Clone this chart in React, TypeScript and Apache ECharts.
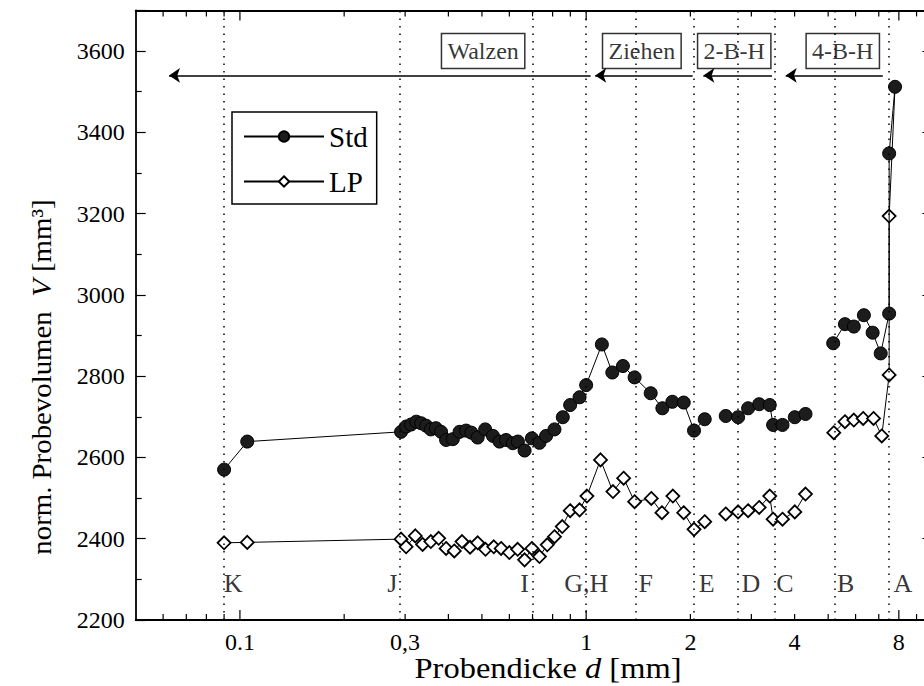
import React, { useEffect, useRef } from "react";
import * as echarts from "echarts";

const FONT = "'Liberation Serif', 'DejaVu Serif', serif";

// axis ranges
const xMin = 0.05;
const xMax = 10;
const yMin = 2200;
const yMax = 3700;

// Std series (filled circles); null marks a break in the line
const stdX = [
  0.09, 0.105,
  0.292, 0.302, 0.312, 0.323, 0.334, 0.345, 0.356, 0.368, 0.381, 0.394, 0.412, 0.431, 0.45, 0.466, 0.486, 0.511,
  0.538, 0.562, 0.587, 0.614, 0.635, 0.664, 0.697, 0.733, 0.766, 0.81, 0.856, 0.899, 0.957, 1.0,
  1.11, 1.19, 1.277, 1.38, 1.536, 1.66, 1.774, 1.913, 2.049, 2.2,
  null,
  2.53, 2.747, 2.936, 3.16, 3.39, 3.467, 3.69, 4.005, 4.3,
  null,
  5.17, 5.59, 5.93, 6.34, 6.72, 7.09, 7.5, 7.5, 7.8,
];
const stdY = [
  2570, 2639,
  2663, 2676, 2681, 2688, 2684, 2678, 2669, 2672, 2663, 2643, 2645, 2663, 2666, 2661, 2649, 2669,
  2653, 2639, 2643, 2635, 2639, 2617, 2647, 2636, 2653, 2669, 2699, 2729, 2748, 2778,
  2878, 2809, 2825, 2797, 2758, 2721, 2737, 2735, 2666, 2694,
  null,
  2702, 2699, 2721, 2731, 2729, 2680, 2680, 2699, 2707,
  null,
  2881, 2928, 2922, 2950, 2907, 2856, 2954, 3348, 3512,
];

// LP series (open diamonds)
const lpX = [
  0.09, 0.105,
  0.292, 0.302, 0.321, 0.337, 0.356, 0.375, 0.394, 0.416, 0.438, 0.462, 0.486, 0.512, 0.541, 0.568, 0.6, 0.634,
  0.664, 0.697, 0.733, 0.772, 0.81, 0.853, 0.899, 0.957, 1.005,
  1.1, 1.195, 1.283, 1.38, 1.542, 1.655, 1.78, 1.913, 2.049, 2.2,
  null,
  2.53, 2.747, 2.936, 3.16, 3.39, 3.467, 3.69, 4.005, 4.3,
  null,
  5.19, 5.59, 5.93, 6.31, 6.76, 7.14, 7.5, 7.5, 7.8,
];
const lpY = [
  2390, 2391,
  2399, 2380, 2407, 2386, 2393, 2401, 2376, 2370, 2393, 2379, 2390, 2374, 2380, 2376, 2366, 2374,
  2348, 2376, 2356, 2385, 2405, 2430, 2469, 2471, 2505,
  2594, 2516, 2549, 2491, 2499, 2464, 2505, 2464, 2423, 2442,
  null,
  2461, 2466, 2469, 2477, 2505, 2448, 2448, 2466, 2510,
  null,
  2661, 2688, 2692, 2696, 2696, 2653, 2803, 3194, 3512,
];
// last LP point has no visible marker (it sits under the top Std point)
const lpHiddenLast = true;

// sample groups: dotted divider lines and their letters
const dividerX = [0.09, 0.292, 0.7, 1.0, 1.39, 2.05, 2.74, 3.51, 5.23, 7.49];
const letterX = [0.0956, 0.2756, 0.664, 1.0, 1.485, 2.23, 2.99, 3.75, 5.62, 8.22];
const letterText = ["K", "J", "I", "G,H", "F", "E", "D", "C", "B", "A"];
const letterY = 2291;

// process annotations (boxed labels + leftward arrows)
const procText = ["Walzen", "Ziehen", "2-B-H", "4-B-H"];
const procBoxX = [0.504, 1.448, 2.677, 5.51];
const procBoxY = 3600;
const arrowFrom = [1.03, 2.03, 3.44, 7.19];
const arrowTo = [0.0624, 1.062, 2.18, 3.77];
const arrowY = 3540;

// x-axis ticks
const xTickVals = [
  0.06, 0.07, 0.08, 0.09, 0.1, 0.2, 0.3, 0.4, 0.5, 0.6, 0.7, 0.8, 0.9, 1, 2, 3, 4, 5, 6, 7, 8, 9,
];
const xMajorTicks = [0.1, 1, 8];
const xLabelVals = [0.1, 0.3, 1, 2, 4, 8];
const xLabelTexts = ["0.1", "0,3", "1", "2", "4", "8"];

function toPairs(xs: (number | null)[], ys: (number | null)[]) {
  return xs.map((x, i) => (x == null || ys[i] == null ? [null, null] : [x, ys[i]]));
}

export default function App() {
  const ref = useRef<HTMLDivElement>(null);

  useEffect(() => {
    if (!ref.current) return;
    const chart = echarts.init(ref.current, undefined, { renderer: "svg" });

    const stdData = toPairs(stdX, stdY);
    const lpData: any[] = toPairs(lpX, lpY);
    if (lpHiddenLast) {
      const last = lpData[lpData.length - 1];
      lpData[lpData.length - 1] = { value: last, symbol: "none" };
    }

    const axisLineStyle = { color: "#000", width: 1.8 };
    const tickStyle = { color: "#000", width: 1.2 };

    const option: any = {
      animation: false,
      backgroundColor: "#fff",
      textStyle: { fontFamily: FONT },
      grid: { left: 135.7, right: 7.6, top: 10.4, bottom: 66, containLabel: false },
      xAxis: [
        {
          type: "log",
          logBase: 10,
          min: xMin,
          max: xMax,
          position: "bottom",
          axisLine: { show: true, lineStyle: axisLineStyle },
          axisTick: { show: false },
          minorTick: { show: false },
          axisLabel: { show: false },
          splitLine: { show: false },
        },
        {
          type: "log",
          logBase: 10,
          min: xMin,
          max: xMax,
          position: "top",
          axisLine: { show: true, lineStyle: axisLineStyle },
          axisTick: { show: false },
          axisLabel: { show: false },
          splitLine: { show: false },
        },
      ],
      yAxis: [
        {
          type: "value",
          min: yMin,
          max: yMax,
          interval: 200,
          position: "left",
          axisLine: { show: true, lineStyle: axisLineStyle },
          axisTick: { show: true, inside: true, length: 10, lineStyle: tickStyle },
          minorTick: { show: true, splitNumber: 2, length: 6, lineStyle: tickStyle },
          axisLabel: {
            show: true,
            showMaxLabel: false,
            margin: 11,
            fontSize: 24,
            fontFamily: FONT,
            color: "#000",
            formatter: (v: number) => String(v),
          },
          splitLine: { show: false },
        },
        {
          type: "value",
          min: yMin,
          max: yMax,
          interval: 200,
          position: "right",
          axisLine: { show: true, lineStyle: axisLineStyle },
          axisTick: { show: true, inside: true, length: 10, lineStyle: tickStyle },
          minorTick: { show: true, splitNumber: 2, length: 6, lineStyle: tickStyle },
          axisLabel: { show: false },
          splitLine: { show: false },
        },
      ],
      legend: {
        data: ["Std", "LP"],
        orient: "vertical",
        left: 232,
        top: 112,
        itemWidth: 80,
        itemHeight: 13,
        itemGap: 16,
        padding: [10, 9, 8, 11],
        borderColor: "#000",
        borderWidth: 1.5,
        selectedMode: false,
        textStyle: { fontSize: 29, fontFamily: FONT, color: "#000" },
      },
      graphic: [
        {
          type: "text",
          x: 548,
          y: 669,
          scaleX: 1.12,
          style: {
            text: "Probendicke {i|d} [mm]",
            fontSize: 29,
            fontFamily: FONT,
            fill: "#000",
            align: "center",
            verticalAlign: "middle",
            rich: { i: { fontSize: 29, fontFamily: FONT, fontStyle: "italic", fill: "#000" } },
          },
        },
        {
          type: "text",
          x: 42,
          y: 377,
          rotation: Math.PI / 2,
          scaleX: 1.03,
          style: {
            text: "norm. Probevolumen  {i|V} [mm³]",
            fontSize: 28,
            fontFamily: FONT,
            fill: "#000",
            align: "center",
            verticalAlign: "middle",
            rich: { i: { fontSize: 28, fontFamily: FONT, fontStyle: "italic", fill: "#000" } },
          },
        },
      ],
      series: [
        {
          name: "LP",
          type: "line",
          data: lpData,
          connectNulls: false,
          symbol: "diamond",
          symbolSize: 13,
          showAllSymbol: true,
          itemStyle: { color: "#fff", borderColor: "#000", borderWidth: 1.8 },
          lineStyle: { color: "#000", width: 1 },
          z: 3,
        },
        {
          name: "Std",
          type: "line",
          data: stdData,
          connectNulls: false,
          symbol: "circle",
          symbolSize: 13,
          showAllSymbol: true,
          itemStyle: { color: "#1c1c1c", borderColor: "#000", borderWidth: 1 },
          lineStyle: { color: "#000", width: 1 },
          z: 4,
        },
        {
          name: "groups",
          type: "scatter",
          symbolSize: 1,
          itemStyle: { color: "transparent" },
          silent: true,
          data: letterX.map((x, i) => ({ value: [x, letterY], name: letterText[i] })),
          label: {
            show: true,
            position: "inside",
            formatter: "{b}",
            fontSize: 26,
            fontFamily: FONT,
            color: "#000",
          },
          markLine: {
            silent: true,
            symbol: ["none", "none"],
            label: { show: false },
            lineStyle: { color: "#000", width: 1.5, type: [1.5, 6] },
            data: dividerX.map((v) => ({ xAxis: v })),
          },
          z: 1,
        },
        {
          name: "process",
          type: "scatter",
          symbolSize: 1,
          itemStyle: { color: "transparent" },
          silent: true,
          data: procBoxX.map((x, i) => ({ value: [x, procBoxY], name: procText[i] })),
          label: {
            show: true,
            position: "inside",
            formatter: "{b}",
            fontSize: 24,
            fontFamily: FONT,
            color: "#000",
            borderColor: "#000",
            borderWidth: 1.5,
            padding: [6, 6, 5, 6],
          },
          markLine: {
            silent: true,
            symbol: ["none", "arrow"],
            symbolSize: 11,
            label: { show: false },
            lineStyle: { color: "#000", width: 1.6, type: "solid" },
            data: arrowFrom.map((x, i) => [
              { coord: [x, arrowY] },
              { coord: [arrowTo[i], arrowY] },
            ]),
          },
          z: 2,
        },
        {
          name: "xticks",
          type: "custom",
          silent: true,
          z: 5,
          data: xTickVals.map((v) => [v, yMin, xMajorTicks.includes(v) ? 1 : 0]),
          encode: { x: 0, y: 1 },
          renderItem: (params: any, api: any) => {
            const v = api.value(0);
            const major = api.value(2);
            const b = api.coord([v, yMin]);
            const t = api.coord([v, yMax]);
            const len = major ? 10 : 6;
            return {
              type: "group",
              children: [
                {
                  type: "line",
                  shape: { x1: b[0], y1: b[1], x2: b[0], y2: b[1] - len },
                  style: { stroke: "#000", lineWidth: 1.2 },
                },
                {
                  type: "line",
                  shape: { x1: t[0], y1: t[1], x2: t[0], y2: t[1] + len },
                  style: { stroke: "#000", lineWidth: 1.2 },
                },
              ],
            };
          },
        },
        {
          name: "xlabels",
          type: "custom",
          silent: true,
          z: 5,
          data: xLabelVals.map((v, i) => [v, yMin, i]),
          encode: { x: 0, y: 1 },
          renderItem: (params: any, api: any) => {
            const v = api.value(0);
            const idx = api.value(2);
            const b = api.coord([v, yMin]);
            return {
              type: "text",
              x: b[0],
              y: b[1] + 22,
              style: {
                text: xLabelTexts[idx],
                fill: "#000",
                fontSize: 24,
                fontFamily: FONT,
                align: "center",
                verticalAlign: "middle",
              },
            };
          },
        },
      ],
    };

    chart.setOption(option);
    return () => chart.dispose();
  }, []);

  return (
    <div
      style={{
        position: "fixed",
        left: 0,
        top: 0,
        width: 924,
        height: 686,
        overflow: "hidden",
        background: "#fff",
      }}
    >
      <div ref={ref} style={{ width: 940, height: 686 }} />
    </div>
  );
}
